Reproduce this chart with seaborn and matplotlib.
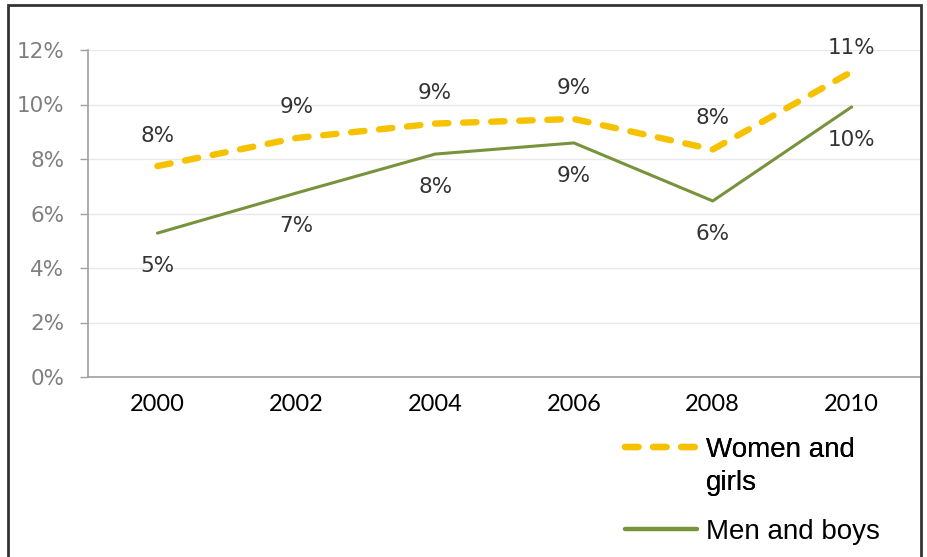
import matplotlib
matplotlib.use("Agg")
import matplotlib.pyplot as plt
import seaborn as sns
import pandas as pd
from matplotlib.patches import Rectangle
from matplotlib.lines import Line2D

years = ["2000", "2002", "2004", "2006", "2008", "2010"]
women_girls = [7.74, 8.77, 9.3, 9.47, 8.35, 11.2]
men_boys = [5.28, 6.75, 8.18, 8.59, 6.46, 9.91]
y_ticks = [0, 2, 4, 6, 8, 10, 12]

women_label = "Women and girls"
men_label = "Men and boys"

df = pd.DataFrame({
    "year": years * 2,
    "share": women_girls + men_boys,
    "group": [women_label] * len(years) + [men_label] * len(years),
})

sns.set_theme(style="white")
plt.rcParams["font.family"] = ["DejaVu Sans"]

fig = plt.figure(figsize=(9.28, 5.57), dpi=100)
ax = fig.add_axes([88 / 928, 1 - 377 / 557, (921 - 88) / 928, (377 - 50) / 557])

gold = "#F6C200"
green = "#77933C"
dash = (2.1, 2.3)

sns.lineplot(
    data=df, x="year", y="share", hue="group", style="group",
    palette={women_label: gold, men_label: green},
    dashes={women_label: dash, men_label: ""},
    sort=False, ax=ax, legend=False,
)
for line, lw in zip(ax.get_lines(), [4.6, 2.2]):
    line.set_linewidth(lw)
    line.set_solid_capstyle("round")
    line.set_dash_capstyle("round")

# value labels: women above the line, men below
women_offsets = [22, 22, 22, 22, 23, 17]
for i, (w, m) in enumerate(zip(women_girls, men_boys)):
    ax.annotate(f"{round(w):d}%", (i, w), xytext=(0, women_offsets[i]),
                textcoords="offset points", ha="center", va="center",
                fontsize=15.5, color="#333333")
    ax.annotate(f"{round(m):d}%", (i, m), xytext=(0, -24),
                textcoords="offset points", ha="center", va="center",
                fontsize=15.5, color="#333333")

ax.set_xlim(-0.5, 5.5)
ax.set_ylim(0, 12)
ax.set_yticks(y_ticks)
ax.set_yticklabels([f"{t}%" for t in y_ticks], fontsize=15.5, color="#7f7f7f")
ax.set_xticks(range(len(years)))
ax.set_xticklabels(years, fontsize=17, color="black", family="Lato")
ax.set_xticks([i - 0.5 for i in range(len(years) + 1)], minor=True)
ax.tick_params(axis="x", which="major", length=0, pad=12)
ax.tick_params(axis="x", which="minor", length=4, color="#c8c8c8", width=1)
ax.tick_params(axis="y", length=6, color="#a0a0a0", width=1, pad=11, left=True)
ax.set_xlabel("")
ax.set_ylabel("")
ax.grid(axis="y", color="#e8e8e8", linewidth=1)
ax.set_axisbelow(True)
for side in ["top", "right"]:
    ax.spines[side].set_visible(False)
for side in ["left", "bottom"]:
    ax.spines[side].set_color("#a0a0a0")
    ax.spines[side].set_linewidth(1.2)

# legend below the plot, on the right; the first entry wraps onto two lines
leg_kw = dict(loc="upper left", frameon=False, handlelength=2.6,
              handletextpad=0.3, labelspacing=0.25, borderaxespad=0,
              borderpad=0, prop={"family": "Liberation Sans", "size": 20})
women_handle = Line2D([], [], color=gold, lw=4.6, dashes=dash, dash_capstyle="round")
blank_handle = Line2D([], [], color="none")
men_handle = Line2D([], [], color=green, lw=3.2, solid_capstyle="round")
leg1 = fig.legend([women_handle, blank_handle], ["Women and", "girls"],
                  bbox_to_anchor=(625 / 928, 1 - 437 / 557), **leg_kw)
fig.add_artist(leg1)
leg2 = fig.legend([men_handle], [men_label],
                  bbox_to_anchor=(625 / 928, 1 - 519 / 557), **leg_kw)
for leg in (leg1, leg2):
    for t in leg.get_texts():
        t.set_color("black")

# outer frame
fig.patches.append(Rectangle((8 / 928, -0.02), 913 / 928, 1 - 5 / 557 + 0.02,
                             transform=fig.transFigure, fill=False,
                             edgecolor="#333333", linewidth=2))

fig.savefig("out.png", dpi=100)
